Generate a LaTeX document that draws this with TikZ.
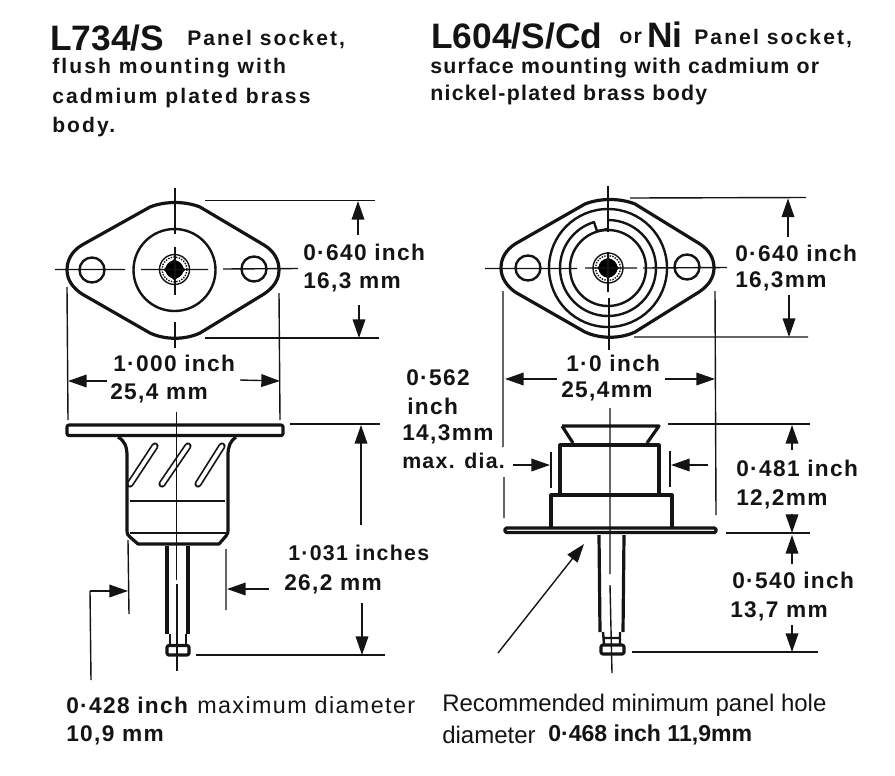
\documentclass[tikz,border=0pt]{standalone}
\usepackage{fontspec}
\setmainfont{Liberation Sans}
\newfontfamily\wfont[LetterSpace=6]{Liberation Sans}
\newfontfamily\xfont[LetterSpace=10]{Liberation Sans}
\usetikzlibrary{arrows.meta}
\tikzset{
  x=0.75pt,y=-0.75pt,
  thick line/.style={line width=2.4pt,black!92,line join=round},
  body line/.style={line width=1.8pt,black!92,line join=round},
  thin line/.style={line width=1.05pt,black!92},
  dimarrow/.style={thin line,-{Triangle[length=14pt,width=9.5pt]}},
  lab/.style={anchor=west,inner sep=0pt,font=\wfont\bfseries\fontsize{17}{19}\selectfont,text=black!92},
  labn/.style={anchor=west,inner sep=0pt,font=\bfseries\fontsize{17.3}{19}\selectfont,text=black!92},
  head/.style={anchor=west,inner sep=0pt,font=\xfont\bfseries\fontsize{15.8}{17}\selectfont,text=black!92},
  headr/.style={anchor=west,inner sep=0pt,font=\wfont\bfseries\fontsize{16}{17}\selectfont,text=black!92},
  big/.style={anchor=west,inner sep=0pt,font=\bfseries\fontsize{26.5}{28}\selectfont,text=black!92},
  reg/.style={anchor=west,inner sep=0pt,font=\fontsize{18}{20}\selectfont,text=black!92},
  regw/.style={anchor=west,inner sep=0pt,font=\wfont\fontsize{17.5}{20}\selectfont,text=black!92},
}
\begin{document}
\begin{tikzpicture}
\useasboundingbox (0,0) rectangle (895,775);
% ---- headers
\node[big] (h1) at (50,38) {L734/S};
\node[head] (h1b) at (187,39) {Panel socket,};
\node[head] (h1c) at (52,68) {flush mounting with};
\node[head] (h1d) at (52,98) {cadmium plated brass};
\node[head] (h1e) at (52,127) {body.};
\node[big] (h2) at (431,36) {L604/S/Cd};
\node[headr] (h2o) at (619,38) {or};
\node[big] (h2n) at (647,35) {Ni};
\node[head] (h2b) at (694,38) {Panel socket,};
\node[headr] (h2c) at (430,68) {surface mounting with cadmium or};
\node[headr] (h2d) at (430,95) {nickel-plated brass body};
% ---- left plan view
\draw[thick line] (67,270) .. controls (67,260) and (72,251) .. (82,245) -- (150,207)
  .. controls (165,201) and (185,201) .. (200,207) -- (264,245)
  .. controls (274,251) and (279,260) .. (279,270)
  .. controls (279,280) and (273,288) .. (264,294) -- (200,333)
  .. controls (185,340) and (165,340) .. (150,333) -- (82,294)
  .. controls (73,288) and (67,280) .. (67,270) -- cycle;
\draw[body line] (92,270) circle (12.5);
\draw[body line] (254,269) circle (12.5);
\draw[body line] (174.5,270) circle (41);
\draw[thin line] (174.5,269.5) circle (15);
\draw[thin line,densely dotted] (174.5,269.5) circle (12.5);
\fill[black] (174.5,258.5) -- (185.5,269.5) -- (174.5,280.5) -- (163.5,269.5) -- cycle;
\fill[black] (174.5,269.5) circle (9);
\draw[thin line] (175,188) -- (175,234) (175,247) -- (175,295) (175,322) -- (175,348);
\draw[thin line] (55,269.5) -- (125,269.5) (141,269.5) -- (208,269.5) (223,269) -- (298,268.5);
% plan dims
\draw[thin line] (205,200.5) -- (375,200.5) (205,338) -- (379,338);
\draw[dimarrow] (358,235) -- (358,201);
\draw[dimarrow] (359,305) -- (359,338);
\draw[thin line] (67,287) -- (68,420) (279,293) -- (280,420);
\draw[dimarrow] (107,381) -- (68,381);
\draw[dimarrow] (240,380) -- (280,381);
\node[lab] (a1) at (303,252) {0·640 inch};
\node[lab] (a2) at (303,282) {16,3 mm};
\node[lab] (a3) at (113,363) {1·000 inch};
\node[lab] (a4) at (110,393) {25,4 mm};
% ---- left side view
\begin{scope}
\clip (127,437) rectangle (228,500);
\draw[line width=5.4pt,black!92,line cap=round] (155,446) -- (130,484) (188,446) -- (162,484) (222,446) -- (198,484);
\draw[line width=2.8pt,white,line cap=round] (155,446) -- (130,484) (188,446) -- (162,484) (222,446) -- (198,484);
\end{scope}
\draw[thick line,rounded corners=1.5] (67,425) rectangle (283,435.5);
\draw[thick line] (118,437) .. controls (125,441) and (127,447) .. (127,456) -- (127,530)
  .. controls (127,534) and (128,536) .. (130,537) -- (138,544) -- (219,544) -- (226,536)
  .. controls (228,534) and (228,532) .. (228,528) -- (228,455)
  .. controls (228,447) and (230,441) .. (236,437);
\draw[thin line] (130,501) -- (225,501) (130,533) -- (226,533);
\draw[thick line] (167,546) -- (167,634) (188,546) -- (188,634);
\draw[body line] (170,634) -- (170,645) (186,634) -- (186,645) (177,634) -- (177,645);
\draw[thick line,rounded corners=1.5] (167,645.5) rectangle (189,655);
\draw[thin line] (176.5,412) -- (176.5,580) (177,584) -- (177,671);
\draw[thin line] (290,424) -- (380,424) (196,655) -- (385,655);
\draw[dimarrow] (361,525) -- (361,425);
\draw[dimarrow] (362,603) -- (362,655);
\draw[thin line] (128,540) -- (129,614) (226,549) -- (226,610);
\draw[thin line] (91,680) -- (90,591);
\draw[dimarrow] (90,591) -- (128,591);
\draw[dimarrow] (269,589) -- (227,589);
\node[lab,font=\wfont\bfseries\fontsize{16}{19}\selectfont] (b1) at (288,553) {1·031 inches};
\node[lab] (b2) at (284,584) {26,2 mm};
\node[lab] (c1) at (66,705) {0·428 inch};
\node[regw] (c2) at (197,705) {maximum diameter};
\node[lab] (c3) at (66,735) {10,9 mm};
% ---- right plan view
\draw[thick line] (501,268) .. controls (501,258) and (506,250) .. (515,244) -- (585,204)
  .. controls (600,198) and (620,198) .. (635,204) -- (700,244)
  .. controls (709,250) and (714,258) .. (714,268)
  .. controls (714,278) and (708,286) .. (699,292) -- (635,332)
  .. controls (620,339) and (600,339) .. (585,332) -- (515,292)
  .. controls (507,286) and (501,278) .. (501,268) -- cycle;
\draw[body line] (528,268) circle (12.5);
\draw[body line] (687,267) circle (12.5);
\draw[body line] (608,268) circle (59);
\draw[body line] (608,268) circle (38);
\draw[body line] (608,220) arc (-90:253:48) -- (597,231) -- (608,229);
\draw[thin line] (608,268) circle (15);
\draw[thin line,densely dotted] (608,268) circle (12.5);
\fill[black] (608,257) -- (619,268) -- (608,279) -- (597,268) -- cycle;
\fill[black] (608,268) circle (9.5);
\draw[thin line] (608,186) -- (608,232) (608,252) -- (608,292) (609,298) -- (609,350);
\draw[thin line] (485,268.5) -- (577,268.5) (585,268) -- (637,268) (643,268) -- (727,267.5);
\draw[thin line] (630,198) -- (806,197.5) (634,337) -- (808,337);
\draw[dimarrow] (788,237) -- (788,198.5);
\draw[dimarrow] (789,295) -- (789,337);
\draw[thin line] (503,291) -- (503,447) (504,477) -- (504,518) (715,291) -- (716,515);
\draw[dimarrow] (557,379) -- (505,379);
\draw[dimarrow] (665,379) -- (715,379);
\node[lab] (d1) at (735,253) {0·640 inch};
\node[lab] (d2) at (735,281) {16,3mm};
\node[lab] (d3) at (566,363) {1·0 inch};
\node[lab] (d4) at (561,391) {25,4mm};
% ---- right side view
\draw[thick line] (562,426) -- (659,426) -- (647,443) (562,426) -- (573,443);
\draw[thick line] (560,495) -- (560,445) -- (659,445) -- (659,495);
\draw[thick line] (551,527) -- (551,495) -- (672,495) -- (672,527);
\draw[thick line,rounded corners=1] (505,528) rectangle (716,532.5);
\draw[thick line] (599,535) -- (600,632) (624,535) -- (623,632);
\draw[body line] (603,632) -- (604,644) (620,632) -- (620,644) (604,638) -- (620,638);
\draw[thick line,rounded corners=1.5] (601,645) rectangle (624,654);
\draw[thin line] (610,408) -- (610,574) (610,585) -- (612,673);
\draw[thin line] (668,424) -- (810,424) (726,533) -- (810,533) (632,652) -- (818,652);
\draw[dimarrow] (792,450) -- (792,425);
\draw[dimarrow] (792,514) -- (792,533);
\draw[dimarrow] (792,564) -- (792,535);
\draw[dimarrow] (792,625) -- (792,652);
\draw[thin line] (551,452) -- (551,488) (670,451) -- (670,487);
\draw[dimarrow] (513,465) -- (550,465);
\draw[dimarrow] (708,465) -- (671,465);
\draw[dimarrow] (498,653) -- (584,544);
\node[lab] (e1) at (406,378) {0·562};
\node[lab] (e2) at (407,406) {inch};
\node[lab] (e3) at (402,434) {14,3mm};
\node[lab,font=\wfont\bfseries\fontsize{16}{19}\selectfont] (e4) at (402,461) {max. dia.};
\node[lab] (f1) at (736,468) {0·481 inch};
\node[lab] (f2) at (736,499) {12,2mm};
\node[lab] (f3) at (732,580) {0·540 inch};
\node[lab] (f4) at (730,611) {13,7 mm};
\node[reg] (g1) at (442,705) {Recommended minimum panel hole};
\node[reg] (g2) at (442,735) {diameter};
\node[labn] (g3) at (548,735) {0·468 inch 11,9mm};
\end{tikzpicture}
\end{document}
